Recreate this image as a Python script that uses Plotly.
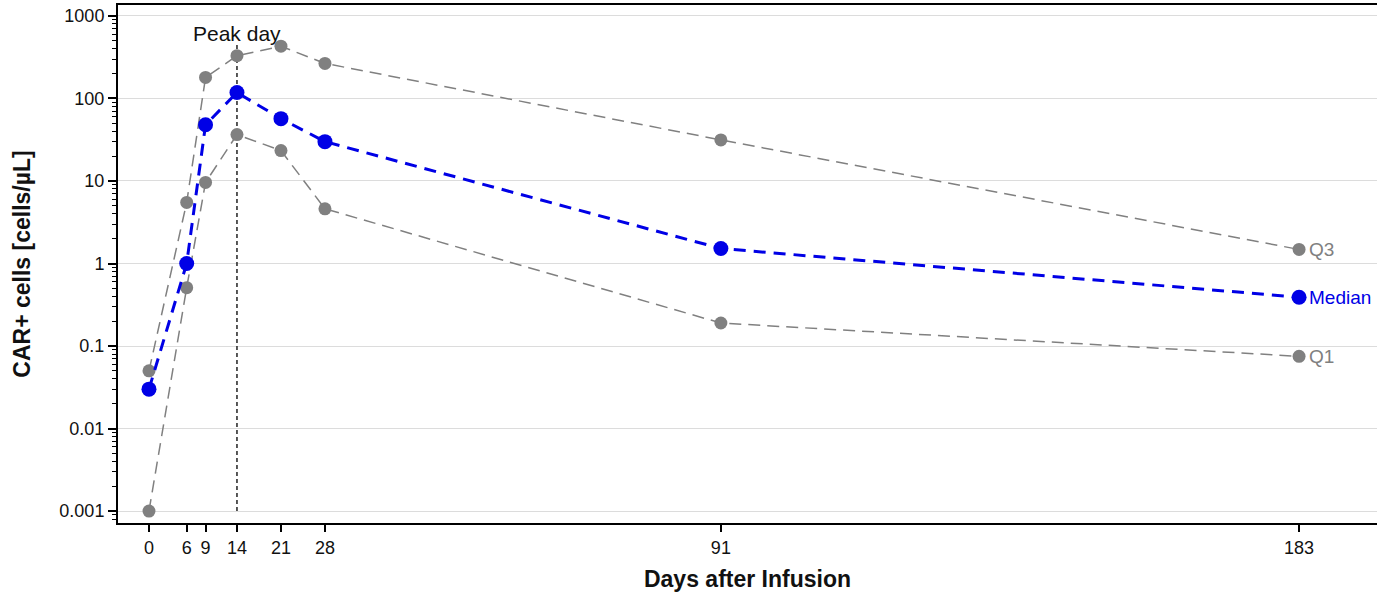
import numpy as np
import plotly.graph_objects as go

# Sampling days after infusion
days = [0, 6, 9, 14, 21, 28, 91, 183]

# CAR+ cell concentrations [cells/µL]
median = [0.03, 1.0, 48, 118, 57, 30, 1.52, 0.39]
q3 = [0.05, 5.5, 180, 330, 430, 266, 31.5, 1.48]
q1 = [0.001, 0.51, 9.6, 36.5, 23.4, 4.6, 0.19, 0.075]

x_ticks = [0, 6, 9, 14, 21, 28, 91, 183]
y_ticks = [0.001, 0.01, 0.1, 1, 10, 100, 1000]
y_ticklabels = ["0.001", "0.01", "0.1", "1", "10", "100", "1000"]

peak_day = 14
peak_line_y = [0.001, 450]

GRAY = "#808080"
BLUE = "#0000e6"
FONT = "Liberation Sans, Arial, sans-serif"

fig = go.Figure()

# Peak-day marker line
fig.add_trace(go.Scatter(
    x=[peak_day, peak_day], y=peak_line_y, mode="lines",
    line=dict(color="#222222", width=1.5, dash="4px,3px"),
    hoverinfo="skip", showlegend=False,
))

for name, vals in (("Q3", q3), ("Q1", q1)):
    fig.add_trace(go.Scatter(
        x=days, y=vals, mode="lines+markers", name=name,
        line=dict(color=GRAY, width=1.5, dash="12px,7px"),
        marker=dict(color=GRAY, size=13),
        showlegend=False,
    ))

fig.add_trace(go.Scatter(
    x=days, y=median, mode="lines+markers", name="Median",
    line=dict(color=BLUE, width=3, dash="12px,8px"),
    marker=dict(color=BLUE, size=15),
    showlegend=False,
))

# End-of-line labels
for label, vals, color in (("Q3", q3, GRAY), ("Median", median, BLUE), ("Q1", q1, GRAY)):
    fig.add_annotation(
        x=days[-1], y=np.log10(vals[-1]), text=label, showarrow=False,
        xanchor="left", yanchor="middle", xshift=8,
        font=dict(family=FONT, size=19, color=color),
    )

fig.add_annotation(
    x=peak_day, y=2.79, text="Peak day", showarrow=False,
    xanchor="center", yanchor="middle",
    font=dict(family=FONT, size=21, color="#111111"),
)

fig.update_layout(
    width=1377, height=594,
    margin=dict(l=118, r=0, t=5, b=71),
    plot_bgcolor="white", paper_bgcolor="white",
    font=dict(family=FONT, size=18, color="#111111"),
)

fig.update_xaxes(
    range=[-4.93, 195.4],
    tickmode="array", tickvals=x_ticks,
    ticks="outside", ticklen=7, tickwidth=1.5, tickcolor="black",
    showline=True, linecolor="black", linewidth=2, mirror=True,
    showgrid=False, zeroline=False,
    tickfont=dict(family=FONT, size=18, color="#111111"),
    title=dict(text="<b>Days after Infusion</b>", standoff=14,
               font=dict(family=FONT, size=23, color="#111111")),
)

fig.update_yaxes(
    type="log", range=[-3.145, 3.133],
    tickmode="array", tickvals=y_ticks, ticktext=y_ticklabels,
    ticks="outside", ticklen=8, tickwidth=1.5, tickcolor="black",
    minor=dict(ticks="outside", ticklen=4, tickwidth=1, tickcolor="black",
               dtick="D1", showgrid=False),
    showline=True, linecolor="black", linewidth=2,
    showgrid=True, gridcolor="#dcdcdc", gridwidth=1,
    zeroline=False,
    tickfont=dict(family=FONT, size=18, color="#111111"),
    title=dict(text="<b>CAR+ cells [cells/µL]</b>", standoff=22,
               font=dict(family=FONT, size=23, color="#111111")),
)

fig.write_html("out.html")
